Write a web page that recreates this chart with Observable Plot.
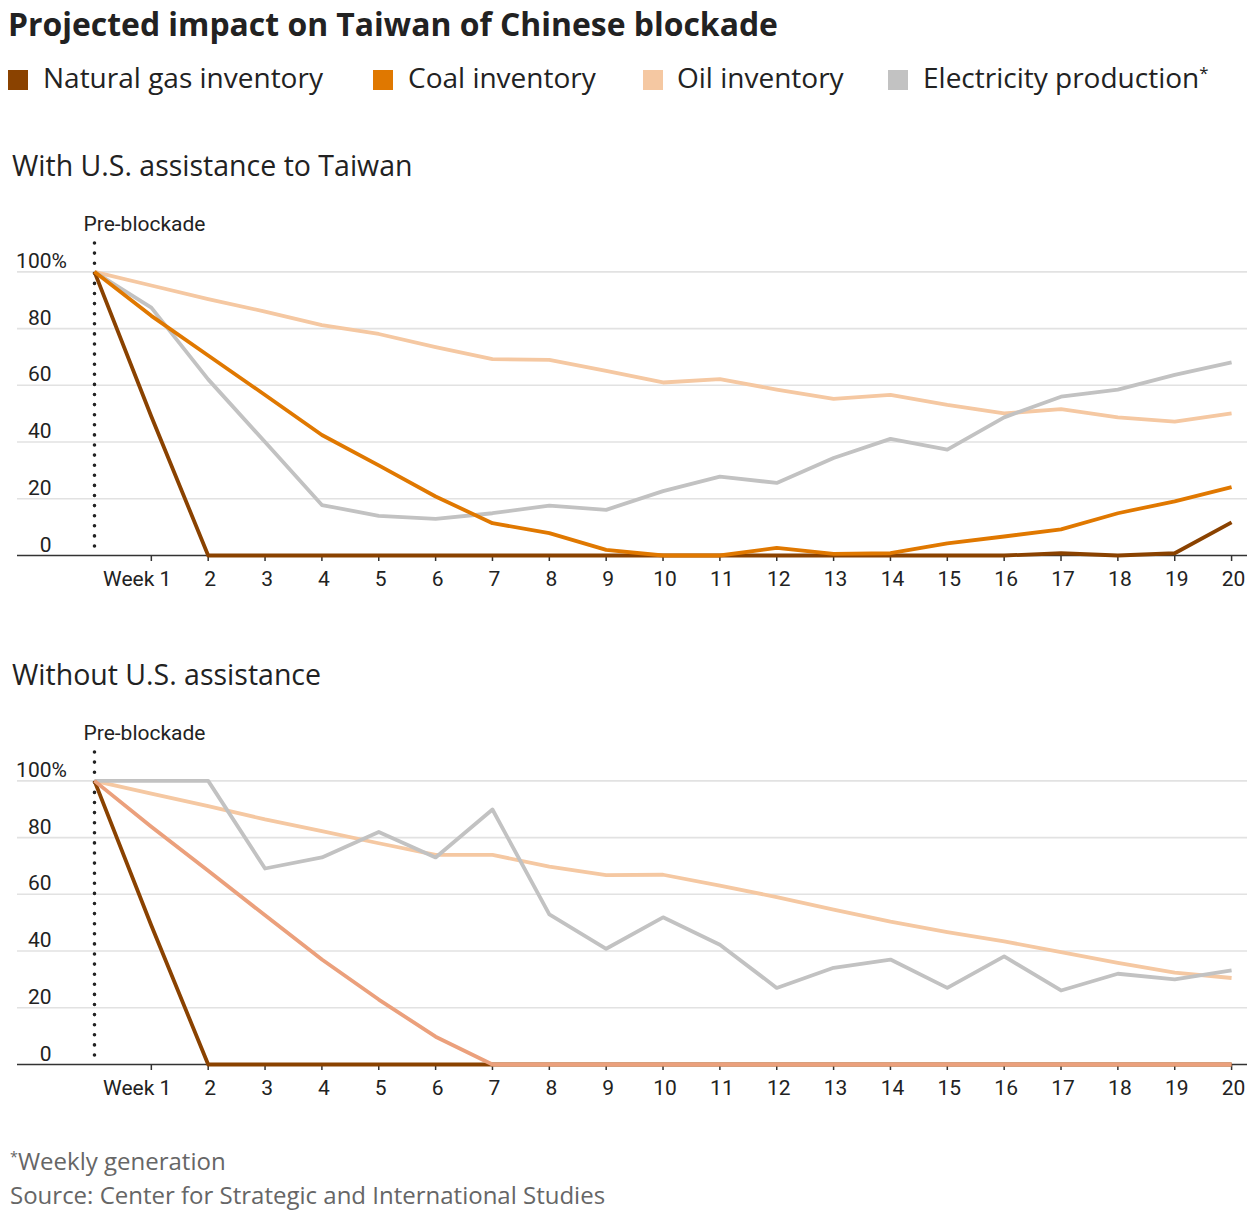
<!DOCTYPE html>
<html>
<head>
<meta charset="utf-8">
<script src="https://cdn.jsdelivr.net/npm/d3@7"></script>
<script src="https://cdn.jsdelivr.net/npm/@observablehq/plot@0.6"></script>
<style>
  html, body { margin: 0; padding: 0; background: #fff; }
  #page { position: relative; width: 1258px; height: 1214px; font-family: "Open Sans", sans-serif; color: #222; }
  .abs { position: absolute; line-height: 1; white-space: nowrap; }
  .title { left: 8px; top: 7.7px; font-size: 31.9px; font-weight: 700; color: #222; }
  .sub { left: 12px; font-size: 28.5px; color: #222; }
  .leg-sq { position: absolute; width: 20px; height: 20px; top: 70px; }
  .leg-tx { top: 63px; font-size: 28px; color: #222; }
  .foot { left: 10px; font-size: 24px; color: #666; }
  sup { font-size: 0.6em; vertical-align: 0; position: relative; top: -0.55em; }
</style>
</head>
<body>
<div id="page">
  <div class="abs title">Projected impact on Taiwan of Chinese blockade</div>
  <div id="legend"></div>
  <div class="abs sub" style="top:150.7px">With U.S. assistance to Taiwan</div>
  <div class="abs" id="chart1" style="left:0;top:195px"></div>
  <div class="abs sub" style="top:659.7px">Without U.S. assistance</div>
  <div class="abs" id="chart2" style="left:0;top:704px"></div>
  <div class="abs foot" style="top:1148.7px"><sup>*</sup>Weekly generation</div>
  <div class="abs foot" style="top:1182.7px">Source: Center for Strategic and International Studies</div>
</div>
<script>
// ---------- data ----------
const weeks = [0, 1, 2, 3, 4, 5, 6, 7, 8, 9, 10, 11, 12, 13, 14, 15, 16, 17, 18, 19, 20];
const weekTicks = [1, 2, 3, 4, 5, 6, 7, 8, 9, 10, 11, 12, 13, 14, 15, 16, 17, 18, 19, 20];
const weekLabels = ["Week 1", "2", "3", "4", "5", "6", "7", "8", "9", "10", "11", "12", "13", "14", "15", "16", "17", "18", "19", "20"];
const yTicks = [0, 20, 40, 60, 80, 100];
const yLabels = ["0", "20", "40", "60", "80", "100"];
const seriesNames = ["Natural gas inventory", "Coal inventory", "Oil inventory", "Electricity production"];

// With U.S. assistance
const withGas  = [100, 49, 0, 0, 0, 0, 0, 0, 0, 0, 0, 0, 0, 0, 0, 0, 0, 0.8, 0, 0.8, 11.7];
const withCoal = [100, 84.5, 70.5, 56.6, 42.5, 31.8, 20.8, 11.4, 7.9, 2.0, 0, 0, 2.7, 0.6, 0.8, 4.3, 6.7, 9.2, 14.9, 19.1, 24.1];
const withOil  = [100, 95.2, 90.4, 86.0, 81.2, 78.1, 73.5, 69.2, 69.0, 65.1, 61.0, 62.2, 58.5, 55.2, 56.6, 53.1, 50.1, 51.6, 48.7, 47.2, 50.1];
const withElec = [100, 87.4, 62.1, 40.0, 17.8, 14.0, 12.9, 14.9, 17.6, 16.1, 22.7, 27.8, 25.6, 34.4, 41.1, 37.3, 48.7, 56.0, 58.5, 63.7, 68.1];

// Without U.S. assistance
const withoutGas  = [100, 49, 0, 0, 0, 0, 0, 0, 0, 0, 0, 0, 0, 0, 0, 0, 0, 0, 0, 0, 0];
const withoutCoal = [100, 83.8, 68.3, 52.6, 37.0, 22.9, 9.8, 0, 0, 0, 0, 0, 0, 0, 0, 0, 0, 0, 0, 0, 0];
const withoutOil  = [100, 95.5, 91.1, 86.4, 82.3, 78.0, 73.9, 73.9, 69.8, 66.8, 66.9, 63.1, 59.0, 54.6, 50.4, 46.7, 43.4, 39.6, 35.8, 32.4, 30.5];
const withoutElec = [100, 100, 100, 69.1, 73.0, 82.0, 73.0, 89.9, 52.9, 40.8, 51.9, 42.2, 27.0, 34.1, 37.0, 27.0, 38.1, 26.1, 32.0, 30.0, 33.2];

// ---------- styles ----------
const colors = { gas: "#8a4200", coal: "#e07800", oil: "#f5c8a2", elec: "#c2c2c2", coalNoAid: "#eba07c" };

// ---------- legend ----------
const legendItems = [
  { name: seriesNames[0], color: colors.gas, sq: 8, tx: 43 },
  { name: seriesNames[1], color: colors.coal, sq: 373, tx: 408 },
  { name: seriesNames[2], color: colors.oil, sq: 643, tx: 677 },
  { name: seriesNames[3], color: colors.elec, sq: 888, tx: 923, star: true }
];
const legend = document.getElementById("legend");
for (const it of legendItems) {
  const sq = document.createElement("div");
  sq.className = "leg-sq";
  sq.style.left = it.sq + "px";
  sq.style.background = it.color;
  legend.appendChild(sq);
  const tx = document.createElement("div");
  tx.className = "abs leg-tx";
  tx.style.left = it.tx + "px";
  tx.innerHTML = it.name + (it.star ? "<sup>*</sup>" : "");
  legend.appendChild(tx);
}

// ---------- charts ----------
function toRows(arr) { return weeks.map((w, i) => ({ week: w, value: arr[i] })); }

function makeChart(gas, coal, oil, elec, coalColor) {
  const tickRows = weekTicks.map((w, i) => ({ w, label: weekLabels[i] }));
  const lineOpts = { x: "week", y: "value", strokeWidth: 3.8, strokeLinejoin: "round", strokeLinecap: "butt" };
  const font = { fontFamily: "Roboto, sans-serif", fontSize: 21, fill: "#222" };
  return Plot.plot({
    width: 1258,
    height: 400,
    marginTop: 48,
    marginBottom: 40,
    marginLeft: 17,
    marginRight: 11,
    style: { fontFamily: "Roboto, sans-serif", overflow: "visible", background: "transparent" },
    x: { domain: [-1.354, 20.28], axis: null },
    y: { domain: [0, 110], axis: null },
    marks: [
      Plot.ruleY(yTicks.slice(1), { stroke: "#e2e2e2", strokeWidth: 1.6 }),
      Plot.ruleY([0], { stroke: "#333", strokeWidth: 1.5 }),
      Plot.axisX({ ticks: weekTicks, tickSize: 6, tickFormat: () => "", stroke: "#333", strokeWidth: 1.5, label: null }),
      Plot.ruleX([0], { stroke: "#222", strokeWidth: 3.6, strokeDasharray: "0 10.1", strokeLinecap: "round" }),
      Plot.line(toRows(oil), { ...lineOpts, stroke: colors.oil }),
      Plot.line(toRows(elec), { ...lineOpts, stroke: colors.elec }),
      Plot.line(toRows(gas), { ...lineOpts, stroke: colors.gas }),
      Plot.line(toRows(coal), { ...lineOpts, stroke: coalColor }),
      // x tick labels
      Plot.text(tickRows.slice(1), { x: "w", y: 0, text: "label", dy: 24, dx: 2, lineAnchor: "middle", ...font }),
      Plot.text(tickRows.slice(0, 1), { x: "w", y: 0, text: "label", dy: 24, dx: 20, textAnchor: "end", lineAnchor: "middle", ...font }),
      // y tick labels
      Plot.text(yTicks, { y: d => d, text: (d, i) => yLabels[i], frameAnchor: "left", dx: 34, textAnchor: "end", lineAnchor: "bottom", dy: -4, ...font }),
      Plot.text([yTicks[yTicks.length - 1]], { y: d => d, text: () => "%", frameAnchor: "left", dx: 34, textAnchor: "start", lineAnchor: "bottom", dy: -4, ...font }),
      // pre-blockade label
      Plot.text([weeks[0]], { x: d => d, text: () => "Pre-blockade", frameAnchor: "top", lineAnchor: "bottom", dy: -13, dx: -11, textAnchor: "start", ...font })
    ]
  });
}

document.getElementById("chart1").appendChild(makeChart(withGas, withCoal, withOil, withElec, colors.coal));
document.getElementById("chart2").appendChild(makeChart(withoutGas, withoutCoal, withoutOil, withoutElec, colors.coalNoAid));
</script>
</body>
</html>
